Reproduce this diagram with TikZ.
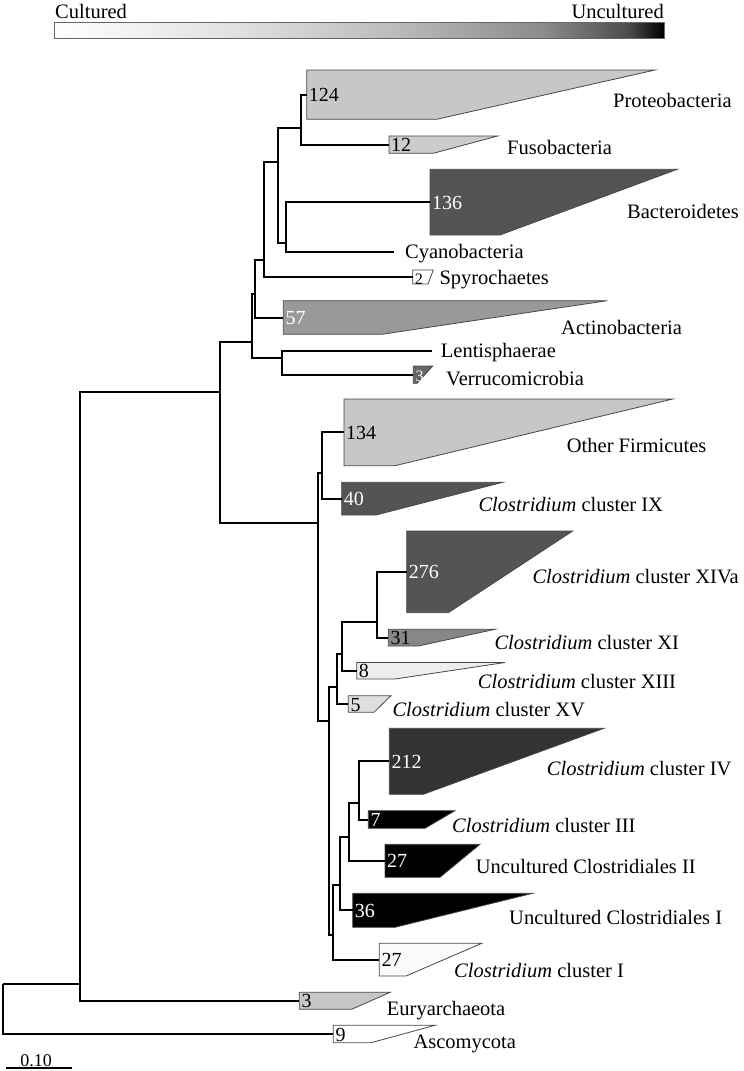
\documentclass[tikz,border=0pt]{standalone}
\usepackage{fontspec}
\setmainfont{Liberation Serif}
\pgfdeclarehorizontalshading{cultshade}{100bp}{color(0bp)=(white); color(25bp)=(white); color(40bp)=(white!88!black); color(52.5bp)=(white!74!black); color(65bp)=(white!55!black); color(72bp)=(white!30!black); color(75bp)=(black); color(100bp)=(black)}
\newcommand\clade[9]{%
  \path[cl, fill=#7] (#2,#3) -- (#5,#3) -- (#6,#4) -- (#2,#4) -- cycle;
  \coordinate (#1) at (#2,{(#3+#4)/2});
  \node[num, #8] (#1n) at ([xshift=2pt,yshift=-7pt]#1) {#9};
}
\begin{document}
\begin{tikzpicture}[x=1pt,y=-1pt,
  br/.style={line width=2pt, black},
  cl/.style={draw=black!72, line width=0.8pt},
  num/.style={font=\fontsize{20}{20}\selectfont, inner sep=0pt, anchor=base west},
  smallnum/.style={font=\fontsize{16}{16}\selectfont},
  taxon/.style={font=\fontsize{20.5}{22}\selectfont, inner sep=0pt, anchor=base west, yshift=-7pt},
  top/.style={font=\fontsize{20.5}{22}\selectfont, inner sep=0pt, anchor=base west}]
\useasboundingbox (0,0) rectangle (744,1071);
% colour scale
\node[top] (cult) at (55,18.3) {Cultured};
\node[top, anchor=base east] (uncult) at (664,18.3) {Uncultured};
\path[shading=cultshade, draw=black!60, line width=0.8pt] (54,22.7) rectangle (664,38.3);
% clades
\clade{proteo}{306.7}{70}{119.3}{655}{436.7}{black!22}{text=black}{124}
\clade{fuso}{389}{136}{153.3}{497.7}{433.3}{black!20}{text=black}{12}
\clade{bact}{430}{169.3}{235}{677.3}{500}{black!67}{text=white}{136}
\clade{spyro}{412.7}{270}{284}{433.3}{428}{white}{text=black, smallnum}{2}
\clade{actino}{283.3}{300.7}{334.3}{607.3}{381.7}{black!40}{text=white}{57}
\clade{verruco}{413.3}{366}{383.3}{432.7}{417}{black!60}{text=white, smallnum}{3}
\clade{other}{344}{399}{465.7}{672.7}{395}{black!22}{text=black}{134}
\clade{ix}{341.7}{482.3}{515}{502.7}{376}{black!67}{text=white}{40}
\clade{xiva}{406.7}{531}{612.7}{572.7}{448.3}{black!67}{text=white}{276}
\clade{xi}{388.3}{629.3}{646}{495}{418.3}{black!47}{text=black}{31}
\clade{xiii}{356.7}{662.5}{679}{505}{395}{black!7}{text=black}{8}
\clade{xv}{348.3}{695.7}{712.3}{391}{374}{black!13}{text=black}{5}
\clade{iv}{389.3}{728.3}{794.3}{604}{423.3}{black!80}{text=white}{212}
\clade{iii}{368.3}{810.7}{828.3}{455}{425}{black}{text=white}{7}
\clade{uctwo}{385}{844.3}{877.3}{480}{440}{black}{text=white}{27}
\clade{ucone}{352.7}{893.3}{927.3}{532.7}{395}{black}{text=white}{36}
\clade{clone}{379.3}{943.3}{976}{481.7}{406}{black!2}{text=black}{27}
\clade{eury}{299.3}{992.3}{1009.3}{390}{351.7}{black!22}{text=black}{3}
\clade{asco}{333.3}{1025.3}{1042.7}{435}{371}{white}{text=black}{9}
% leaf tips without clades
\coordinate (cyano) at (394,251.7);
\coordinate (lenti) at (431.7,350.7);
% internal nodes
\coordinate (root) at (2.7,984.3);
\coordinate (D) at (80,984.3);
\coordinate (C) at (220,391.7);
\coordinate (B) at (251.7,341.7);
\coordinate (A) at (255,294);
\coordinate (S) at (264,260);
\coordinate (P) at (277.7,162.3);
\coordinate (Q) at (300.7,127.7);
\coordinate (R) at (286,242.7);
\coordinate (LV) at (281.7,358);
\coordinate (E) at (317.5,522.7);
\coordinate (F) at (321.7,472.7);
\coordinate (K) at (328.5,720.7);
\coordinate (L) at (336.5,686.7);
\coordinate (M) at (342,654);
\coordinate (N) at (377.3,621.7);
\coordinate (J) at (333.3,935);
\coordinate (I) at (339.5,885);
\coordinate (H) at (349.3,836.7);
\coordinate (G) at (359.3,802.7);
% branches
\draw[br] (root) -- (D);
\draw[br] (root) |- (asco);
\draw[br] (D) |- (C);
\draw[br] (D) |- (eury);
\draw[br] (C) |- (B);
\draw[br] (C) |- (E);
\draw[br] (B) |- (A);
\draw[br] (B) |- (LV);
\draw[br] (A) |- (S);
\draw[br] (A) |- (actino);
\draw[br] (S) |- (P);
\draw[br] (S) |- (spyro);
\draw[br] (P) |- (Q);
\draw[br] (P) |- (R);
\draw[br] (Q) |- (proteo);
\draw[br] (Q) |- (fuso);
\draw[br] (R) |- (bact);
\draw[br] (R) |- (cyano);
\draw[br] (LV) |- (lenti);
\draw[br] (LV) |- (verruco);
\draw[br] (E) |- (F);
\draw[br] (E) |- (K);
\draw[br] (F) |- (other);
\draw[br] (F) |- (ix);
\draw[br] (K) |- (L);
\draw[br] (K) |- (J);
\draw[br] (L) |- (M);
\draw[br] (L) |- (xv);
\draw[br] (M) |- (N);
\draw[br] (M) |- (xiii);
\draw[br] (N) |- (xiva);
\draw[br] (N) |- (xi);
\draw[br] (J) |- (I);
\draw[br] (J) |- (clone);
\draw[br] (I) |- (H);
\draw[br] (I) |- (ucone);
\draw[br] (H) |- (G);
\draw[br] (H) |- (uctwo);
\draw[br] (G) |- (iv);
\draw[br] (G) |- (iii);
% taxon labels
\node[taxon] (tproteo) at (613,100) {Proteobacteria};
\node[taxon] (tfuso) at (507,147.7) {Fusobacteria};
\node[taxon] (tbact) at (627,211) {Bacteroidetes};
\node[taxon] (tcyano) at (405,251) {Cyanobacteria};
\node[taxon] (tspyro) at (439.3,277.7) {Spyrochaetes};
\node[taxon] (tactino) at (561,327.7) {Actinobacteria};
\node[taxon] (tlenti) at (440.7,350.7) {Lentisphaerae};
\node[taxon] (tverruco) at (446,378.3) {Verrucomicrobia};
\node[taxon] (tother) at (566.7,445) {Other Firmicutes};
\node[taxon] (tix) at (478.3,504) {\textit{Clostridium} cluster IX};
\node[taxon] (txiva) at (532.3,576.7) {\textit{Clostridium} cluster XIVa};
\node[taxon] (txi) at (494.3,642.7) {\textit{Clostridium} cluster XI};
\node[taxon] (txiii) at (477.7,681.7) {\textit{Clostridium} cluster XIII};
\node[taxon] (txv) at (392.3,709) {\textit{Clostridium} cluster XV};
\node[taxon] (tiv) at (546.7,768.3) {\textit{Clostridium} cluster IV};
\node[taxon] (tiii) at (452,825) {\textit{Clostridium} cluster III};
\node[taxon] (tuctwo) at (475.7,866.7) {Uncultured Clostridiales II};
\node[taxon] (tucone) at (509,917.3) {Uncultured Clostridiales I};
\node[taxon] (tclone) at (454,970) {\textit{Clostridium} cluster I};
\node[taxon] (teury) at (386.7,1008.3) {Euryarchaeota};
\node[taxon] (tasco) at (413.3,1041.7) {Ascomycota};
% scale bar
\coordinate (sbl) at (6,1068);
\coordinate (sbr) at (71.7,1068);
\draw[line width=1.4pt] (sbl) -- (sbr);
\node[font=\fontsize{18}{18}\selectfont, inner sep=0pt, anchor=base] (sbt) at (36,1066.5) {0.10};
\end{tikzpicture}
\end{document}
